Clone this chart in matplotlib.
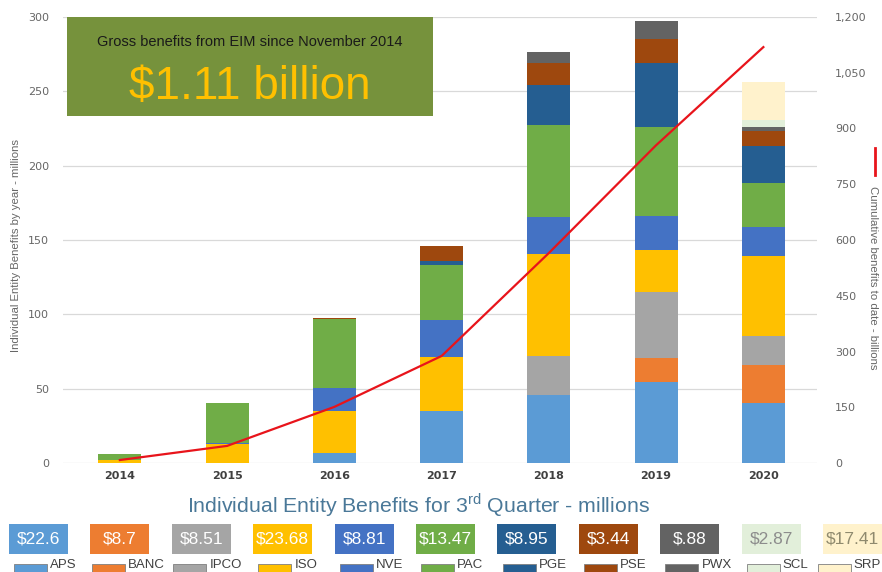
import numpy as np
import matplotlib.pyplot as plt
from matplotlib.patches import Rectangle
from matplotlib.ticker import FuncFormatter

plt.rcParams['mathtext.fontset'] = 'custom'
plt.rcParams['mathtext.rm'] = 'Liberation Sans'

years = ['2014', '2015', '2016', '2017', '2018', '2019', '2020']
entities = ['APS', 'BANC', 'IPCO', 'ISO', 'NVE', 'PAC', 'PGE', 'PSE', 'PWX', 'SCL', 'SRP']

# yearly benefits per entity, millions
aps = [0, 0, 6.5, 35.0, 45.8, 54.5, 40.6]
banc = [0, 0, 0, 0, 0, 16.2, 25.1]
ipco = [0, 0, 0, 0, 26.4, 44.3, 19.8]
iso = [2.3, 12.5, 28.5, 36.5, 68.2, 28.3, 53.8]
nve = [0, 1.0, 15.3, 24.7, 25.3, 23.1, 19.3]
pac = [4.0, 26.7, 46.4, 37.0, 61.8, 59.5, 29.6]
pge = [0, 0, 0, 2.8, 26.9, 43.1, 25.1]
pse = [0, 0, 0.8, 10.2, 14.6, 16.1, 10.1]
pwx = [0, 0, 0, 0, 7.4, 11.9, 2.9]
scl = [0, 0, 0, 0, 0, 0, 4.1]
srp = [0, 0, 0, 0, 0, 0, 26.2]

# cumulative benefits to date
cumulative = [8, 46, 151, 288, 565, 855, 1119]

# 3rd quarter benefits per entity
q3_labels = ['$22.6', '$8.7', '$8.51', '$23.68', '$8.81', '$13.47',
             '$8.95', '$3.44', '$.88', '$2.87', '$17.41']

colors = ['#5B9BD5', '#ED7D31', '#A5A5A5', '#FFC000', '#4472C4', '#70AD47',
          '#255E91', '#9E480E', '#636363', '#E2EFDA', '#FFF2CC']
q3_text_colors = ['white'] * 9 + ['#8C8C8C', '#8F8A6E']

W, H = 882, 572
fig = plt.figure(figsize=(W / 100, H / 100), dpi=100)


def px(x, y):
    return x / W, 1 - y / H


ax = fig.add_axes([63 / W, 1 - 463 / H, (817 - 63) / W, (463 - 17) / H])
x = np.arange(len(years))
series = [aps, banc, ipco, iso, nve, pac, pge, pse, pwx, scl, srp]
bottom = np.zeros(len(years))
for vals, c in zip(series, colors):
    ax.bar(x, vals, 0.4, bottom=bottom, color=c, zorder=2)
    bottom += np.array(vals)

ax.set_xlim(-0.53, 6.5)
ax.set_ylim(0, 300)
ax.set_yticks(np.arange(0, 301, 50))
ax.set_xticks(x)
ax.set_xticklabels(years, fontsize=8, color='#404040', fontweight='bold')
ax.tick_params(axis='y', labelsize=8, labelcolor='#666666', length=0, pad=10)
ax.tick_params(axis='x', length=0, pad=6)
ax.grid(axis='y', color='#D9D9D9', lw=0.9, zorder=0)
for s in ax.spines.values():
    s.set_visible(False)
fig.text(*px(16, 245), 'Individual Entity Benefits by year - millions', rotation=90,
         ha='center', va='center', fontsize=8.2, color='#666666', family='Liberation Sans')

ax2 = ax.twinx()
ax2.plot(x, cumulative, color='#E8141B', lw=1.6, zorder=5)
ax2.set_ylim(0, 1200)
ax2.set_yticks(np.arange(0, 1201, 150))
ax2.yaxis.set_major_formatter(FuncFormatter(lambda v, p: f'{int(v):,}'))
ax2.tick_params(axis='y', labelsize=8, labelcolor='#666666', length=0, pad=13)
for s in ax2.spines.values():
    s.set_visible(False)

# right-hand axis title with its line key
fig.text(*px(873, 278), 'Cumulative benefits to date - billions', rotation=-90,
         ha='center', va='center', fontsize=8.2, color='#666666', family='Liberation Sans')
fig.add_artist(plt.Line2D([875 / W, 875 / W], [1 - 148 / H, 1 - 175 / H],
                          color='#E8141B', lw=2))

# headline box
fig.add_artist(Rectangle(px(67, 116), (433 - 67) / W, (116 - 17) / H,
                         facecolor='#76923C', edgecolor='none', zorder=10))
fig.text(*px(250, 42), 'Gross benefits from EIM since November 2014', ha='center', va='center',
         fontsize=10.5, color='#1A1A1A', family='Liberation Sans', zorder=11)
fig.text(*px(250, 87), '$1.11 billion', ha='center', va='center',
         fontsize=33, color='#FFC000', family='Liberation Sans', zorder=11)

# third quarter title
fig.text(*px(418, 505), r'Individual Entity Benefits for 3$^{\mathrm{rd}}$ Quarter - millions',
         ha='center', va='center', fontsize=15.3, color='#4A7898', family='Liberation Sans')

# value boxes and entity keys
lefts = np.linspace(9, 823, len(entities))
for i, (name, lab, c, tc) in enumerate(zip(entities, q3_labels, colors, q3_text_colors)):
    l = lefts[i]
    fig.add_artist(Rectangle(px(l, 554), 59 / W, 30 / H, facecolor=c, edgecolor='none'))
    fig.text(*px(l + 29.5, 539), lab, ha='center', va='center', fontsize=12.5,
             color=tc, family='Liberation Sans')
    tw = len(name) * 7.5
    pl_ = l + 29.5 - (33 + 3 + tw) / 2 + 5
    pl_ = min(pl_, W - 6 - 36 - tw)
    fig.add_artist(Rectangle(px(pl_, 576), 33 / W, 12 / H, facecolor=c,
                             edgecolor='#7F7F7F', lw=0.6))
    fig.text(*px(pl_ + 36, 571), name, ha='left', va='bottom', fontsize=9.5,
             color='#404040', family='Liberation Sans')

fig.savefig('out.png', dpi=100)
